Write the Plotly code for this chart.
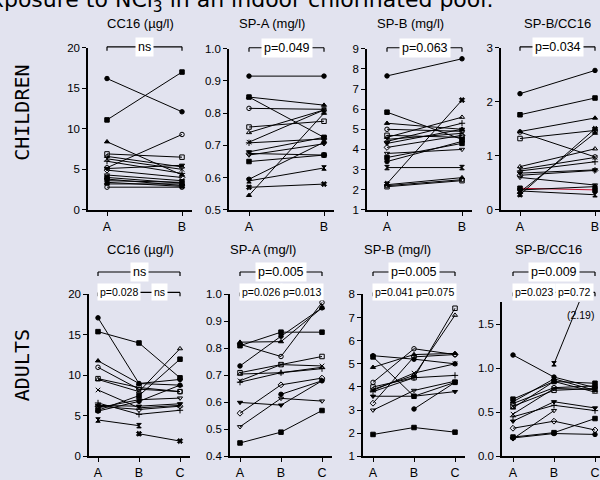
import plotly.graph_objects as go

W, H = 600, 480

# ---------------- data ----------------
cats2 = ["A", "B"]
cats3 = ["A", "B", "C"]

child_cc16_A = [16.2, 11.1, 8.4, 5.2, 6.9, 6.6, 6.3, 6.0, 5.1, 4.9, 4.3, 4.0, 3.8, 3.6, 3.4, 3.2, 2.8]
child_cc16_B = [12.1, 17.0, 4.3, 9.3, 6.5, 5.3, 5.0, 4.5, 5.5, 4.0, 3.6, 3.3, 3.0, 3.4, 2.9, 3.2, 2.8]

child_spa_A = [0.915, 0.85, 0.85, 0.815, 0.757, 0.74, 0.71, 0.708, 0.68, 0.675, 0.67, 0.65, 0.595, 0.59, 0.57, 0.545]
child_spa_B = [0.915, 0.725, 0.825, 0.812, 0.775, 0.81, 0.81, 0.72, 0.725, 0.67, 0.705, 0.67, 0.71, 0.63, 0.58, 0.80]

child_spb_A = [7.65, 5.85, 5.3, 5.0, 4.7, 4.6, 4.5, 4.4, 4.3, 4.1, 3.8, 3.6, 3.4, 3.1, 2.3, 2.25, 2.2, 2.15]
child_spb_B = [8.5, 4.5, 5.0, 4.9, 4.6, 5.6, 4.8, 5.3, 5.0, 4.7, 4.0, 4.3, 4.4, 3.1, 6.45, 2.6, 2.5, 2.45]

child_ratio_A = [2.15, 1.76, 1.45, 1.44, 1.32, 0.80, 0.75, 0.72, 0.68, 0.64, 0.60, 0.40, 0.37, 0.35, 0.28, 0.33]
child_ratio_B = [2.58, 2.07, 1.70, 0.98, 1.47, 1.13, 0.97, 0.89, 0.74, 0.73, 0.46, 0.37, 0.43, 0.28, 1.50, 1.42]
child_ratio_red = 11  # subject drawn in red

adult_cc16_A = [17.1, 15.4, 11.8, 11.0, 9.6, 9.5, 8.2, 6.6, 6.3, 6.2, 6.0, 5.7, 5.6, 4.5, None]
adult_cc16_B = [9.0, 14.0, 9.0, 8.3, 8.5, 8.0, 6.0, 5.2, 6.2, 5.8, 7.0, 7.5, 6.8, 3.8, 2.8]
adult_cc16_C = [9.5, 9.7, 8.8, 8.0, 8.0, 13.3, 6.3, 5.7, 6.5, 6.2, 7.2, 12.0, 8.8, None, 1.9]

adult_spa_A = [0.735, 0.81, 0.823, 0.815, 0.71, 0.705, 0.68, 0.675, 0.60, 0.56, 0.51, 0.45, None]
adult_spa_B = [0.845, 0.86, 0.825, 0.77, 0.74, 0.71, 0.74, 0.71, 0.59, 0.665, 0.615, 0.49, 0.63]
adult_spa_C = [0.95, 0.86, 0.95, 0.97, 0.77, 0.73, 0.735, 0.725, 0.68, 0.69, 0.605, 0.57, 0.68]

adult_spb_A = [5.35, 5.3, 4.85, 4.2, 4.0, 3.9, 3.85, 3.8, 3.6, 3.3, 3.0, 1.95, None]
adult_spb_B = [5.2, 3.6, 5.4, 5.65, 4.4, 4.5, 4.6, 4.4, 3.6, 5.3, 3.85, 2.25, 3.05]
adult_spb_C = [5.0, 4.2, 5.45, 5.4, 7.4, 7.1, 5.0, 4.5, 3.8, 5.4, 4.25, 2.05, 4.2]

adult_ratio_A = [1.15, 0.65, 0.62, 0.60, 0.57, 0.55, 0.48, 0.45, 0.40, 0.32, 0.20, 0.22, 0.21, None]
adult_ratio_B = [0.90, 0.85, 0.88, 0.78, 0.75, 0.85, 0.77, 0.58, 0.62, 0.40, 0.52, 0.27, 0.26, 1.05]
adult_ratio_C = [0.78, 0.83, 0.75, 0.80, 0.77, 0.73, 0.76, 0.52, 0.55, 0.30, None, 0.43, 0.25, 2.19]
offscale_label = "(2.19)"

titles_top = ["CC16 (µg/l)", "SP-A (mg/l)", "SP-B (mg/l)", "SP-B/CC16"]
titles_bot = ["CC16 (µg/l)", "SP-A (mg/l)", "SP-B (mg/l)", "SP-B/CC16"]
p_top = ["ns", "p=0.049", "p=0.063", "p=0.034"]
p_bot_all = ["ns", "p=0.005", "p=0.005", "p=0.009"]
p_bot_ab = ["p=0.028", "p=0.026", "p=0.041", "p=0.023"]
p_bot_bc = ["ns", "p=0.013", "p=0.075", "p=0.72"]

# ---------------- layout geometry (pixels) ----------------
BG = "#e2e3ef"
FONT = "Liberation Sans, Arial"
AX_FONT = dict(family=FONT, size=11.5, color="black")

BOT_TOP, BOT_BOT = 297, 464

panels = [
    dict(ax=88, a=107, step=75, top=43, bot=210, yr=[0, 20], tv=[0, 5, 10, 15, 20],
         tt=["0", "5", "10", "15", "20"], data=[child_cc16_A, child_cc16_B]),
    dict(ax=229, a=249, step=75, top=44, bot=210, yr=[0.5, 1.0], tv=[0.5, 0.6, 0.7, 0.8, 0.9, 1.0],
         tt=["0.5", "0.6", "0.7", "0.8", "0.9", "1.0"], data=[child_spa_A, child_spa_B]),
    dict(ax=367, a=387, step=75, top=44, bot=210, yr=[1, 9], tv=list(range(1, 10)),
         tt=[str(v) for v in range(1, 10)], data=[child_spb_A, child_spb_B]),
    dict(ax=501, a=520, step=75, top=43, bot=210, yr=[0, 3], tv=[0, 1, 2, 3],
         tt=["0", "1", "2", "3"], data=[child_ratio_A, child_ratio_B]),
    dict(ax=89, a=98, step=41, top=BOT_TOP, bot=BOT_BOT, yr=[0, 20], tv=[0, 5, 10, 15, 20],
         tt=["0", "5", "10", "15", "20"], data=[adult_cc16_A, adult_cc16_B, adult_cc16_C]),
    dict(ax=230, a=240, step=41, top=BOT_TOP, bot=BOT_BOT, yr=[0.4, 1.0],
         tv=[0.4, 0.5, 0.6, 0.7, 0.8, 0.9, 1.0],
         tt=["0.4", "0.5", "0.6", "0.7", "0.8", "0.9", "1.0"], data=[adult_spa_A, adult_spa_B, adult_spa_C]),
    dict(ax=363, a=373, step=41, top=BOT_TOP, bot=BOT_BOT, yr=[1, 8], tv=list(range(1, 9)),
         tt=[str(v) for v in range(1, 9)], data=[adult_spb_A, adult_spb_B, adult_spb_C]),
    dict(ax=502, a=513, step=41, top=BOT_TOP + 8, bot=BOT_BOT, yr=[0, 1.75], tv=[0, 0.5, 1.0, 1.5],
         tt=["0.0", "0.5", "1.0", "1.5"], data=[adult_ratio_A, adult_ratio_B, adult_ratio_C]),
]

symbols = ["circle", "square", "triangle-up", "circle-open", "square-open", "triangle-up-open",
           "x-thin", "cross-thin", "triangle-down", "diamond-open", "triangle-down-open",
           "square", "circle", "hourglass", "x", "triangle-up", "circle-open", "square-open"]

fig = go.Figure()
layout = {}
shapes = []
annotations = []


def px_x(p):
    return p / W


def px_y(p):
    return 1 - p / H


def text_ann(xp, yp, text, size, family=FONT, angle=0, xanchor="center"):
    annotations.append(dict(x=px_x(xp), y=px_y(yp), xref="paper", yref="paper", text=text,
                            showarrow=False, xanchor=xanchor, yanchor="middle", textangle=angle,
                            font=dict(family=family, size=size, color="black")))


for i, pn in enumerate(panels):
    n = i + 1
    xa = "x" if n == 1 else f"x{n}"
    ya = "y" if n == 1 else f"y{n}"
    ncat = len(pn["data"])
    right_px = min(pn["a"] + pn["step"] * (ncat - 1) + 10, W)
    xr = [(pn["ax"] - pn["a"]) / pn["step"], (right_px - pn["a"]) / pn["step"]]
    cats = cats2 if ncat == 2 else cats3
    layout["xaxis" if n == 1 else f"xaxis{n}"] = dict(
        domain=[px_x(pn["ax"]), px_x(right_px)], range=xr, anchor=ya,
        tickvals=list(range(ncat)), ticktext=cats, showline=True, linecolor="black",
        linewidth=1.5, ticks="outside", ticklen=4, tickcolor="black", tickwidth=1.2,
        showgrid=False, zeroline=False, tickfont=dict(family=FONT, size=12.5, color="black"),
        fixedrange=True)
    layout["yaxis" if n == 1 else f"yaxis{n}"] = dict(
        domain=[px_y(pn["bot"]), px_y(pn["top"])], range=pn["yr"], anchor=xa,
        tickvals=pn["tv"], ticktext=pn["tt"], showline=True, linecolor="black",
        linewidth=1.5, ticks="outside", ticklen=4, tickcolor="black", tickwidth=1.2,
        showgrid=False, zeroline=False, tickfont=AX_FONT, fixedrange=True)

    nsub = len(pn["data"][0])
    for j in range(nsub):
        ys = [pn["data"][k][j] for k in range(ncat)]
        col = "black"
        if n == 4 and j == child_ratio_red:
            col = "#c8102e"
        fig.add_trace(go.Scatter(
            x=list(range(ncat)), y=ys, xaxis=xa, yaxis=ya, mode="lines+markers",
            line=dict(color=col, width=1),
            marker=dict(symbol=symbols[j % len(symbols)], size=4.5, color="black",
                        line=dict(color="black", width=1)),
            showlegend=False, hoverinfo="skip", connectgaps=False))

    # significance brackets
    def bracket(x0, x1, ypx, label, fs):
        yp = px_y(ypx)
        yt = px_y(ypx + 4)
        shapes.append(dict(type="line", xref=xa, yref="paper", x0=x0, x1=x1, y0=yp, y1=yp,
                           line=dict(color="black", width=1.2)))
        for xx in (x0, x1):
            shapes.append(dict(type="line", xref=xa, yref="paper", x0=xx, x1=xx, y0=yp, y1=yt,
                               line=dict(color="black", width=1.2)))
        annotations.append(dict(x=(x0 + x1) / 2, y=yp, xref=xa, yref="paper", text=label,
                                showarrow=False, bgcolor="white", borderpad=2,
                                xanchor="center", yanchor="middle",
                                font=dict(family=FONT, size=fs, color="black")))

    if ncat == 2:
        bracket(0, 1, pn["top"] - 1, p_top[i], 12.5)
    else:
        k = i - 4
        bracket(0, 2, 274, p_bot_all[k], 12.5)
        bracket(0, 1, 295, p_bot_ab[k], 10.5)
        bracket(1, 2, 295, p_bot_bc[k], 10.5)

# panel titles
top_cx = [140, 272, 410, 557]
bot_cx = [140, 263, 397, 548]
for t, cx in zip(titles_top, top_cx):
    text_ann(cx, 18, t, 13)
for t, cx in zip(titles_bot, bot_cx):
    text_ann(cx, 251, t, 13)

# row labels
text_ann(22, 110, "CHILDREN", 20, family="DejaVu Sans Mono", angle=-90)
text_ann(22, 370, "ADULTS", 20, family="DejaVu Sans Mono", angle=-90)

# figure title (cut at the top edge)
text_ann(495, -5, "Exposure to NCl<sub>3</sub> in an indoor chlorinated pool.", 22,
         family="DejaVu Sans", xanchor="right")

# off-scale value label in adult SP-B/CC16
annotations.append(dict(x=1.65, y=1.6, xref="x8", yref="y8", text=offscale_label, showarrow=False,
                        xanchor="center", yanchor="middle",
                        font=dict(family=FONT, size=10.5, color="black")))

fig.update_layout(width=W, height=H, margin=dict(l=0, r=0, t=0, b=0),
                  paper_bgcolor=BG, plot_bgcolor="rgba(0,0,0,0)",
                  shapes=shapes, annotations=annotations, **layout)

fig.write_html("out.html", config={"displayModeBar": False},
               post_script="document.body.style.margin='0';document.body.style.background='%s';" % BG)
